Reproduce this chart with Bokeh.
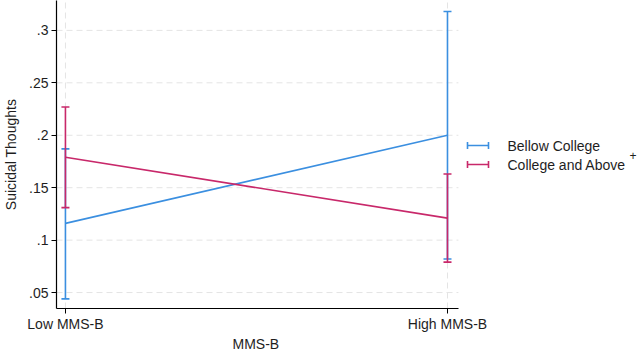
from bokeh.plotting import figure
from bokeh.models import (ColumnDataSource, Whisker, TeeHead, FixedTicker,
                          Range1d, Arrow, Label, Title)
from bokeh.embed import file_html
from bokeh.resources import INLINE

# Predicted margins of suicidal thoughts by MMS-B level and education
levels = [0, 1]
level_labels = ["Low MMS-B", "High MMS-B"]

below_mean = [0.116, 0.200]
below_lo = [0.044, 0.082]
below_hi = [0.187, 0.318]

college_mean = [0.179, 0.121]
college_lo = [0.131, 0.079]
college_hi = [0.227, 0.163]

y_ticks = [0.05, 0.10, 0.15, 0.20, 0.25, 0.30]
y_tick_labels = [".05", ".1", ".15", ".2", ".25", ".3"]

series_names = ["Bellow College", "College and Above"]

BLUE = "#3b8fe0"
RED = "#c8286a"
FONT = "Liberation Sans"
TXT = "#1e1e1e"

# plot region (the frame also hosts the legend column on the right)
X_LO, X_HI = -0.0234, 1.0286
Y_LO, Y_HI = 0.0348, 0.3285

p = figure(width=639, height=352, output_backend="svg", toolbar_location=None,
           x_range=Range1d(X_LO, 1.5026), y_range=Range1d(Y_LO, Y_HI),
           min_border_left=53, min_border_right=0, min_border_top=0,
           min_border_bottom=0)
p.outline_line_color = None
p.background_fill_color = "white"
p.border_fill_color = "white"
p.xgrid.visible = False
p.ygrid.visible = False

# axes
p.xaxis.ticker = FixedTicker(ticks=levels)
p.xaxis.major_label_overrides = {v: l for v, l in zip(levels, level_labels)}
p.xaxis.bounds = (X_LO, X_HI)
p.yaxis.ticker = FixedTicker(ticks=y_ticks)
p.yaxis.major_label_overrides = {v: l for v, l in zip(y_ticks, y_tick_labels)}
for ax in (p.xaxis, p.yaxis):
    ax.axis_line_color = "black"
    ax.axis_line_width = 1.2
    ax.major_tick_line_color = "black"
    ax.major_tick_in = 0
    ax.major_tick_out = 5
    ax.minor_tick_line_color = None
    ax.major_label_text_font = FONT
    ax.major_label_text_font_size = "14px"
    ax.major_label_text_color = TXT
    ax.axis_label_text_font = FONT
    ax.axis_label_text_font_size = "14px"
    ax.axis_label_text_font_style = "normal"
    ax.axis_label_text_color = TXT
p.yaxis.major_label_orientation = "horizontal"
p.yaxis.major_label_standoff = 3
p.xaxis.major_label_standoff = 2
p.yaxis.axis_label = "Suicidal Thoughts"
p.yaxis.axis_label_standoff = 7

# x-axis title, centred under the data area
p.add_layout(Title(text="MMS-B", align="left", offset=176, standoff=0,
                   vertical_align="middle",
                   text_font=FONT, text_font_size="14px",
                   text_font_style="normal", text_color=TXT), "below")

# dashed grid over the data area only
grid_style = dict(line_color="#e4e4e4", line_dash="6 4", line_width=1,
                  level="underlay")
p.segment(x0=[X_LO] * len(y_ticks), x1=[X_HI] * len(y_ticks),
          y0=y_ticks, y1=y_ticks, **grid_style)
p.segment(x0=levels, x1=levels, y0=[Y_LO] * len(levels),
          y1=[Y_HI] * len(levels), **grid_style)

series = [
    (below_mean, below_lo, below_hi, BLUE),
    (college_mean, college_lo, college_hi, RED),
]
for mean, lo, hi, color in series:
    src = ColumnDataSource(dict(x=levels, y=mean, lo=lo, hi=hi))
    p.add_layout(Whisker(source=src, base="x", lower="lo", upper="hi",
                         line_color=color, line_width=1.6,
                         upper_head=TeeHead(size=8, line_color=color, line_width=1.6),
                         lower_head=TeeHead(size=8, line_color=color, line_width=1.6)))
    p.line("x", "y", source=src, line_color=color, line_width=1.6)

# legend to the right of the data area
legend_rows = [(series_names[0], BLUE, 163), (series_names[1], RED, 144)]
for name, color, yy in legend_rows:
    p.add_layout(Arrow(x_start=411, y_start=yy, x_end=432, y_end=yy,
                       start_units="screen", end_units="screen",
                       line_color=color, line_width=1.6,
                       start=TeeHead(size=7, line_color=color, line_width=1.6),
                       end=TeeHead(size=7, line_color=color, line_width=1.6)))
    p.add_layout(Label(x=451, y=yy, x_units="screen", y_units="screen",
                       text=name, text_font=FONT, text_font_size="14px",
                       text_color=TXT, text_baseline="middle"))
p.add_layout(Label(x=573, y=153, x_units="screen", y_units="screen",
                   text="+", text_font=FONT, text_font_size="12px",
                   text_color=TXT, text_baseline="middle"))

open("out.html", "w").write(file_html(p, INLINE))
